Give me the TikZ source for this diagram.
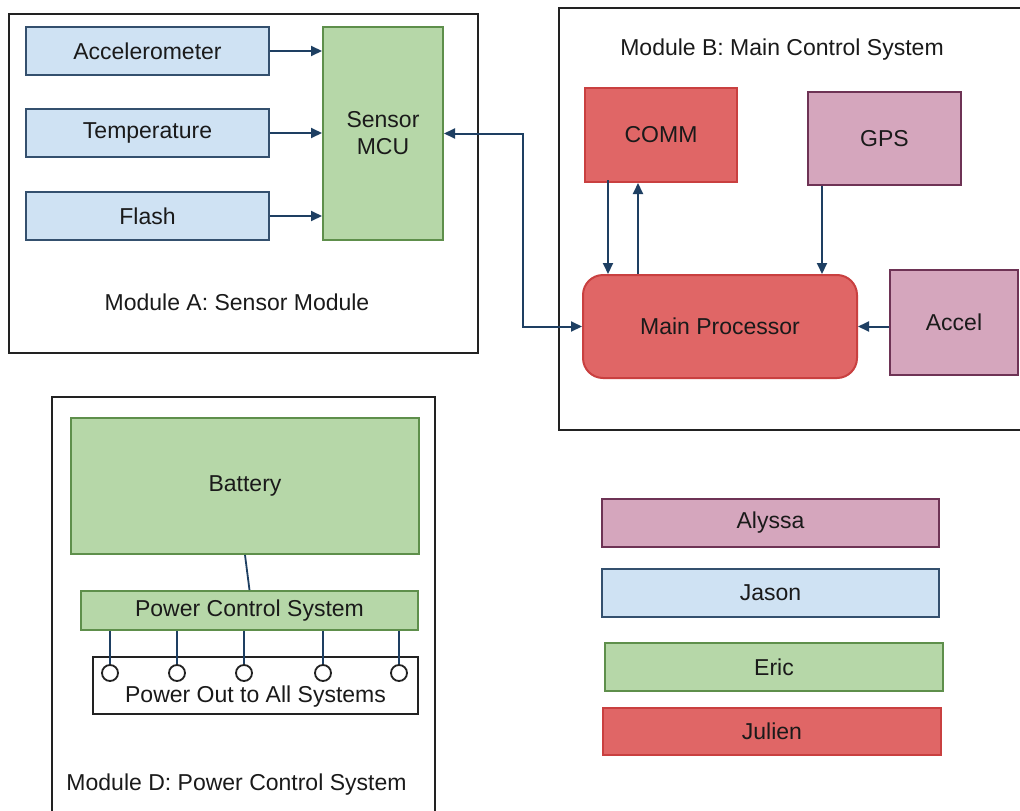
\documentclass[tikz,border=0pt]{standalone}
\usepackage{fontspec}
\setmainfont{Liberation Sans}
\usetikzlibrary{arrows.meta,calc}
\definecolor{bluefill}{HTML}{CFE2F3}
\definecolor{blueline}{HTML}{34506E}
\definecolor{greenfill}{HTML}{B6D7A8}
\definecolor{greenline}{HTML}{5E8F4B}
\definecolor{redfill}{HTML}{E06666}
\definecolor{redline}{HTML}{C94040}
\definecolor{pinkfill}{HTML}{D5A6BD}
\definecolor{pinkline}{HTML}{6E3355}
\definecolor{arrowcol}{HTML}{1E3F62}
\definecolor{txt}{HTML}{1A1A1A}
\definecolor{modline}{HTML}{222222}
\tikzset{
  every node/.style={font=\fontsize{23}{27}\selectfont, text=txt},
  box/.style={draw, rectangle, inner sep=0pt, line width=2pt, align=center},
  bluebox/.style={box, fill=bluefill, draw=blueline},
  greenbox/.style={box, fill=greenfill, draw=greenline},
  redbox/.style={box, fill=redfill, draw=redline},
  pinkbox/.style={box, fill=pinkfill, draw=pinkline},
  whitebox/.style={box, fill=white, draw=modline},
  module/.style={draw=modline, line width=2.6pt},
  arr/.style={draw=arrowcol, line width=2pt, -{Triangle[length=11pt,width=10pt]}},
  biarr/.style={draw=arrowcol, line width=2pt, {Triangle[length=11pt,width=10pt]}-{Triangle[length=11pt,width=10pt]}},
  wire/.style={draw=arrowcol, line width=1.8pt},
  outlet/.style={draw=modline, fill=white, circle, inner sep=0pt, minimum size=16pt, line width=1.8pt},
  modlabel/.style={inner sep=0pt}
}
\begin{document}
\begin{tikzpicture}[x=1pt,y=-1pt]
\useasboundingbox (0,0) rectangle (1020,811);
\clip (0,0) rectangle (1020,811);
\fill[white] (0,0) rectangle (1020,811);

% Module A
\draw[module] (9,14) rectangle (478,353);
\node[modlabel] (labA) at (237,302) {Module A: Sensor Module};
\node[bluebox, minimum width=243pt, minimum height=48pt] (acc) at (147.5,51) {Accelerometer};
\node[bluebox, minimum width=243pt, minimum height=48pt] (temp) at (147.5,133) {Temperature};
\node[bluebox, minimum width=243pt, minimum height=48pt] (flash) at (147.5,216) {Flash};
\node[greenbox, minimum width=120pt, minimum height=213pt] (mcu) at (383,133.5) {Sensor\\MCU};

% Module B
\draw[module] (1030,8) -- (559,8) -- (559,430) -- (1030,430);
\node[modlabel] (labB) at (782,50) {Module B: Main Control System};
\node[redbox, minimum width=152pt, minimum height=94pt] (comm) at (661,135) {COMM};
\node[pinkbox, minimum width=153pt, minimum height=93pt] (gps) at (884.5,138.5) {GPS};
\node[redbox, rounded corners=20pt, minimum width=274pt, minimum height=103pt] (main) at (720,326.5) {Main Processor};
\node[pinkbox, minimum width=128pt, minimum height=105pt] (accel) at (954,322.5) {Accel};

% Module A arrows
\draw[arr] (acc.east) -- (acc.east -| mcu.west);
\draw[arr] (temp.east) -- (temp.east -| mcu.west);
\draw[arr] (flash.east) -- (flash.east -| mcu.west);
\draw[biarr] (mcu.east) -- ++(79,0) |- (main.west);

% Module B arrows
\draw[arr] ([xshift=-53pt,yshift=3pt]comm.south) -- ([xshift=-53pt]comm.south |- main.north);
\draw[arr] ([xshift=-23pt]comm.south |- main.north) -- ([xshift=-23pt]comm.south);
\draw[arr] ([xshift=-62.5pt]gps.south) -- ([xshift=-62.5pt]gps.south |- main.north);
\draw[arr] (main.east -| accel.west) -- (main.east);

% Module D
\draw[module] (52,830) -- (52,397) -- (435,397) -- (435,830);
\node[modlabel] (labD) at (236.5,785) {Module D: Power Control System};
\node[greenbox, minimum width=348pt, minimum height=136pt] (battery) at (245,486) {Battery};
\node[greenbox, minimum width=337pt, minimum height=39pt] (pcs) at (249.5,610.5) {Power Control System};
\node[whitebox, minimum width=325pt, minimum height=57pt,
      label={[yshift=-11pt]center:Power Out to All Systems}] (pout) at (255.5,685.5) {};
\foreach \i/\x in {1/110,2/177,3/244,4/323,5/399}{
  \node[outlet] (o\i) at (\x,673) {};
  \draw[wire] (o\i.north |- pcs.south) -- (o\i.north);
}
\draw[wire] (battery.south) -- (pcs.north);

% Legend
\node[pinkbox, minimum width=337pt, minimum height=48pt] (alyssa) at (770.5,523) {Alyssa};
\node[bluebox, minimum width=337pt, minimum height=48pt] (jason) at (770.5,593) {Jason};
\node[greenbox, minimum width=338pt, minimum height=48pt] (eric) at (774,667) {Eric};
\node[redbox, minimum width=338pt, minimum height=47pt] (julien) at (772,731.5) {Julien};
\end{tikzpicture}
\end{document}
